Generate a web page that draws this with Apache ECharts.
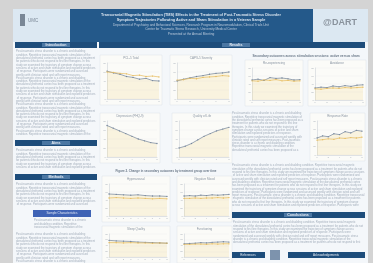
<!DOCTYPE html>
<html><head><meta charset="utf-8">
<script src="https://cdn.jsdelivr.net/npm/echarts@6/dist/echarts.min.js"></script>
<style>html,body{margin:0;padding:0;background:#d4d4d4}#c{width:373px;height:263px}</style>
</head><body><div id="c"></div>
<script>
// ---- data ----
const weeks = ['0','1','2','3','4','5','6','7','8'];
const c1Active = [62, 58, 55, 50, 48, 44, 46, 41, 40];
const c1Sham   = [60, 59, 57, 56, 52, 53, 50, 51, 49];
const c2Active = [40, 44, 47, 50, 52, 55, 57, 58, 60];
const c2Sham   = [42, 43, 46, 45, 48, 49, 50, 52, 51];
const c3Active = [50, 52, 49, 56, 54, 55, 53, 50, 51];
const c3Sham   = [48, 47, 50, 49, 51, 48, 49, 47, 48];
const c4Active = [30, 32, 31, 35, 33, 36, 34, 37, 38];
const c4Sham   = [28, 27, 29, 30, 29, 31, 30, 31, 32];
const c5Active = [70, 64, 58, 52, 46, 40, 36, 32, 30];
const c6Active = [20, 24, 30, 38, 46, 52, 58, 62, 66];
const c7Active = [55, 54, 53, 52, 53, 51, 50, 50, 49];
const c7Sham   = [45, 46, 45, 44, 45, 44, 43, 44, 43];
const c8Active = [50, 51, 50, 52, 51, 53, 52, 53, 54];
const c8Sham   = [44, 44, 45, 44, 45, 45, 46, 45, 46];
const c9Active = [58, 56, 55, 54, 52, 51, 50, 49, 48];
const c9Sham   = [50, 50, 49, 50, 49, 49, 48, 49, 48];
const c10Active= [46, 47, 48, 50, 49, 51, 52, 53, 52];
const c10Sham  = [44, 44, 45, 45, 44, 46, 45, 46, 46];
const c11Active= [40, 45, 43, 50, 48, 55, 52, 58, 56];
const c11Sham  = [35, 36, 38, 37, 40, 39, 41, 40, 42];

const titleLines = [
  'Transcranial Magnetic Stimulation (TMS) Effects in the Treatment of Post-Traumatic Stress Disorder',
  'Symptom Trajectories Following Active and Sham Stimulation in a Veteran Sample',
  'Department of Psychiatry and Behavioral Sciences, Research Program in Neuromodulation, Clinical Trials Unit',
  'Center for Traumatic Stress Research, University Medical Center',
  'Presented at the Annual Meeting'
];
const sections = ['Introduction','Aims','Methods','Results','Conclusions','References','Acknowledgements'];
const chartTitles = ['PCL-5 Total','CAPS-5 Severity','Re-experiencing','Avoidance','Depression (PHQ-9)','Quality of Life','Hyperarousal','Negative Mood','Sleep Quality','Functioning','Response Rate'];

const filler = 'Post-traumatic stress disorder is a chronic and disabling condition. Repetitive transcranial magnetic stimulation of the dorsolateral prefrontal cortex has been proposed as a treatment for patients who do not respond to first line therapies. In this study we examined the trajectory of symptom change across sessions of active and sham stimulation and explored predictors of response. Participants were randomized and assessed weekly with clinician rated and self report measures. ';
function txt(n){ let s=''; for(let i=0;i<n;i++) s+=filler; return s; }

// ---- layout ----
const g = [];
function rect(x,y,w,h,fill,z,stroke){ g.push({type:'rect',shape:{x,y,width:w,height:h},style:{fill,stroke:stroke||null,lineWidth:stroke?0.5:0},z:z||0,silent:true}); }
function text(x,y,s,o){ g.push(Object.assign({type:'text',x,y,style:Object.assign({text:s,fill:'#8d99a8',fontSize:3,fontFamily:'Liberation Sans'},o||{}),z:3,silent:true})); }
function block(x,y,w,h,n){ text(x,y,txt(n),{width:w,height:h,overflow:'break',lineOverflow:'truncate',lineHeight:3.3,fontSize:2.8,fill:'#a3aebb'}); }
function bar(x,y,w,label,lx){ rect(x,y,w,6,'#1e4d7b',2); rect(lx-14,y+1,28,4,'#4b77a3',2); text(lx,y+1.2,label,{fill:'#e8eef5',fontSize:3.6,align:'center',fontWeight:'bold'}); }

rect(0,0,373,263,'#d4d4d4',-20);
rect(13,9,355,254,'#f4f7fa',-19);
// header
rect(13,9,57,33,'#dce8f2',-18);
rect(313,9,55,33,'#dce8f2',-18);
rect(70,9,243,33,'#24598a',-18);
text(191,13,titleLines[0],{fill:'#d9e4ef',fontSize:3.8,align:'center',fontWeight:'bold'});
text(191,18,titleLines[1],{fill:'#d9e4ef',fontSize:3.8,align:'center',fontWeight:'bold'});
text(191,23.5,titleLines[2],{fill:'#bccbdc',fontSize:3.2,align:'center'});
text(191,28,titleLines[3],{fill:'#bccbdc',fontSize:3.2,align:'center'});
text(191,32.5,titleLines[4],{fill:'#bccbdc',fontSize:3.2,align:'center'});
// logos
g.push({type:'rect',shape:{x:20,y:14,width:5,height:12},style:{fill:'#7a8796'},z:1});
text(28,18,'UMC',{fill:'#7a8796',fontSize:4.5});
text(340,18,'@DART',{fill:'#8a939d',fontSize:9,align:'center',fontWeight:'bold'});
// bars
bar(15,42,82,sections[0],56);
bar(99,42,266,sections[3],236);
// left column
block(16,50,80,87,30);
bar(15,140,82,sections[1],56);
block(16,149,80,22,8);
bar(15,174,82,sections[2],56);
block(16,183,80,25,8);
rect(33,210,58,7,'#3f63b5',2);
text(62,211.5,'Sample Characteristics',{fill:'#dfe6f5',fontSize:3,align:'center'});
block(34,219,56,12,4);
block(16,233,80,30,10);
// right column text
text(306,55,'Secondary outcomes across stimulation sessions: active versus sham',{fill:'#6a7888',fontSize:3.2,align:'center',fontWeight:'bold'});
block(232,112,72,40,12);
block(232,164,133,44,14);
bar(232,212,133,sections[4],298);
block(233,221,131,26,8);
rect(232,252,33,6,'#1e4d7b',2); text(248,253.4,sections[5],{fill:'#e8eef5',fontSize:3,align:'center'});
rect(270,250,10,10,'#7d93ad',2);
rect(288,252,77,6,'#1e4d7b',2); text(326,253.4,sections[6],{fill:'#e8eef5',fontSize:3,align:'center'});
text(166,170,'Figure 2. Change in secondary outcomes by treatment group over time',{fill:'#6a7888',fontSize:3,align:'center',fontWeight:'bold'});

// chart panels
const panels = [
  {x:100,y:55,w:62,h:50,a:c1Active,b:c1Sham},
  {x:170,y:55,w:62,h:50,a:c2Active,b:c2Sham},
  {x:245,y:60,w:58,h:46,a:c3Active,b:c3Sham},
  {x:308,y:60,w:58,h:46,a:c4Active,b:c4Sham},
  {x:100,y:113,w:60,h:50,a:c5Active,b:null},
  {x:172,y:113,w:60,h:50,a:c6Active,b:null},
  {x:102,y:176,w:68,h:46,a:c7Active,b:c7Sham},
  {x:177,y:176,w:55,h:46,a:c8Active,b:c8Sham},
  {x:102,y:226,w:68,h:37,a:c9Active,b:c9Sham},
  {x:177,y:226,w:55,h:37,a:c10Active,b:c10Sham},
  {x:310,y:113,w:55,h:48,a:c11Active,b:c11Sham}
];
const grid=[], xAxis=[], yAxis=[], series=[];
panels.forEach((p,i)=>{
  rect(p.x,p.y,p.w,p.h,'#fbfbf8',-10,'#dde3ea');
  text(p.x+p.w/2,p.y+2,chartTitles[i],{fill:'#8a95a3',fontSize:3,align:'center'});
  grid.push({left:p.x+7,top:p.y+8,width:p.w-10,height:p.h-14});
  xAxis.push({type:'category',gridIndex:i,data:weeks,boundaryGap:false,axisLine:{lineStyle:{color:'#c4cad2',width:0.5}},axisTick:{show:false},axisLabel:{fontSize:2.5,color:'#aab2bb',margin:1}});
  yAxis.push({type:'value',gridIndex:i,min:0,max:80,interval:20,axisLine:{show:true,lineStyle:{color:'#c4cad2',width:0.5}},splitLine:{lineStyle:{color:'#eeeeee',width:0.4}},axisLabel:{fontSize:2.5,color:'#aab2bb',margin:1}});
  series.push({type:'line',xAxisIndex:i,yAxisIndex:i,data:p.a,symbol:'circle',symbolSize:1.3,lineStyle:{width:0.7,color:'#73849b'},itemStyle:{color:'#73849b'},areaStyle:{color:'rgba(240,214,130,0.3)'}});
  if(p.b) series.push({type:'line',xAxisIndex:i,yAxisIndex:i,data:p.b,symbol:'circle',symbolSize:1.3,lineStyle:{width:0.7,color:'#e6bb5e'},itemStyle:{color:'#e6bb5e'}});
});

const chart = echarts.init(document.getElementById('c'),null,{renderer:'canvas'});
chart.setOption({animation:false,backgroundColor:'#d4d4d4',grid,xAxis,yAxis,series,graphic:{elements:g}});
</script></body></html>
